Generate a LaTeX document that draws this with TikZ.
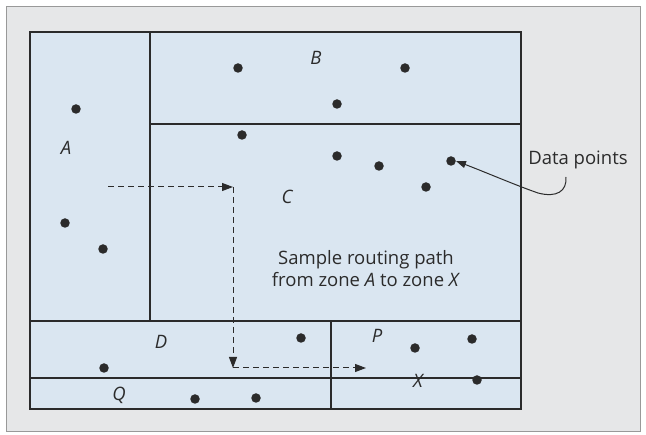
\documentclass[tikz,border=0pt]{standalone}
\usepackage{fontspec}
\setmainfont{Open Sans}
\usetikzlibrary{arrows.meta}
\definecolor{bgray}{HTML}{E6E7E8}
\definecolor{zone}{HTML}{DAE6F1}
\definecolor{ink}{HTML}{2B2B2B}
\tikzset{
  dot/.style={circle,fill=ink,inner sep=0pt,minimum size=9.5pt},
  zl/.style={font=\fontsize{18.5}{20}\selectfont\itshape,text=ink,inner sep=0pt},
  txt/.style={font=\fontsize{18.5}{22}\selectfont,text=ink,align=center,inner sep=0pt},
  zline/.style={draw=ink,line width=1.1pt},
  route/.style={draw=ink,line width=1pt,dash pattern=on 6pt off 4pt,-{Triangle[length=11pt,width=8pt]}},
}
\begin{document}
\begin{tikzpicture}[x=1pt,y=-1pt]
\useasboundingbox (0,0) rectangle (646,435);
\fill[white] (0,0) rectangle (646,435);
\draw[fill=bgray,draw=gray!80,line width=1pt] (6,7) rectangle (640,432);
% zones
\fill[zone] (30,32) rectangle (521,409);
\draw[zline] (30,32) rectangle (521,409);
\draw[zline] (150,32) -- (150,321);
\draw[zline] (150,124) -- (521,124);
\draw[zline] (30,321) -- (521,321);
\draw[zline] (331,321) -- (331,409);
\draw[zline] (30,378) -- (521,378);
% zone labels
\node[zl] (lA) at (66,148) {A};
\node[zl] (lB) at (316,58) {B};
\node[zl] (lC) at (287,197) {C};
\node[zl] (lD) at (161,342) {D};
\node[zl] (lP) at (377,336) {P};
\node[zl] (lQ) at (119,395) {Q};
\node[zl] (lX) at (418,381) {X};
% dots
\node[dot] (b1) at (238,68) {};
\node[dot] (b2) at (405,68) {};
\node[dot] (b3) at (337,104) {};
\node[dot] (a1) at (76,109) {};
\node[dot] (a2) at (65,223) {};
\node[dot] (a3) at (103,249) {};
\node[dot] (c1) at (242,135) {};
\node[dot] (c2) at (337,156) {};
\node[dot] (c3) at (379,166) {};
\node[dot] (c4) at (451,161) {};
\node[dot] (c5) at (426,187) {};
\node[dot] (d1) at (301,338) {};
\node[dot] (d2) at (104,368) {};
\node[dot] (q1) at (195,399) {};
\node[dot] (q2) at (256,398) {};
\node[dot] (p1) at (415,348) {};
\node[dot] (p2) at (472,339) {};
\node[dot] (p3) at (477,380) {};
% texts
\node[txt] (sample) at (366,269) {Sample routing path\\from zone \textit{A} to zone \textit{X}};
\node[txt] (data) at (578,160) {Data points};
% routing path
\coordinate (r0) at (108,187);
\coordinate (r1) at (233,187);
\coordinate (r2) at (233,368);
\coordinate (r3) at (366,368);
\draw[route] (r0) -- (r1);
\draw[route] (r1) -- (r2);
\draw[route] (r2) -- (r3);
% callout arrow
\draw[ink,line width=1pt,-{Triangle[length=10pt,width=7pt]}]
  (566,177) .. controls (567,191) and (557,198) .. (538,193)
  .. controls (515,185) and (485,172) .. (c4.east);
\end{tikzpicture}
\end{document}
